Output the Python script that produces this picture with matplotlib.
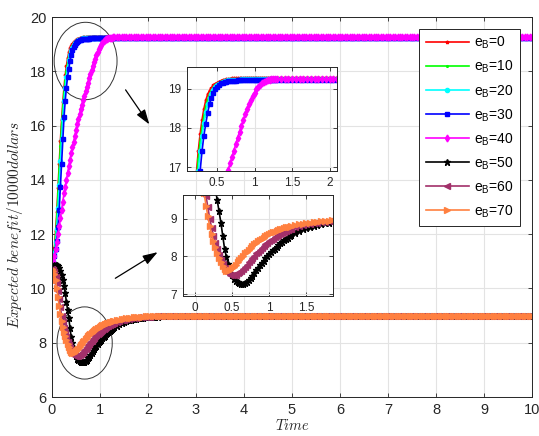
import numpy as np
import matplotlib
matplotlib.use("Agg")
import matplotlib.pyplot as plt
from matplotlib.patches import Ellipse

plt.rcParams['font.family'] = ['Liberation Sans', 'DejaVu Sans']
plt.rcParams['mathtext.fontset'] = 'custom'
plt.rcParams['mathtext.rm'] = 'Liberation Sans'
plt.rcParams['mathtext.it'] = 'Liberation Sans:italic'

# ---------------- data ----------------
# time grid: fine part 0..1.3 (step 0.025), mid part 1.35..3.0 (step 0.05), tail 3.05..10 (step 0.05)
t_fine = np.round(np.arange(0, 1.3001, 0.025), 3)
t_mid = np.round(np.arange(1.35, 3.0001, 0.05), 3)
t_tail = np.round(np.arange(3.05, 10.0001, 0.05), 3)

labels = [r'e$_{\mathrm{B}}$=0', r'e$_{\mathrm{B}}$=10', r'e$_{\mathrm{B}}$=20', r'e$_{\mathrm{B}}$=30',
          r'e$_{\mathrm{B}}$=40', r'e$_{\mathrm{B}}$=50', r'e$_{\mathrm{B}}$=60', r'e$_{\mathrm{B}}$=70']

# upper group (values on t_fine, then steady value)
eB0 = [10.80, 11.10, 11.50, 12.10, 12.80, 13.70, 14.60, 15.45, 16.20, 16.85, 17.40, 17.85, 18.20,
       18.48, 18.70, 18.85, 18.95, 19.02, 19.08, 19.12, 19.15, 19.18, 19.20, 19.22, 19.23, 19.24,
       19.25, 19.255, 19.26, 19.265, 19.27, 19.27, 19.27, 19.275, 19.275, 19.28, 19.28, 19.28, 19.28,
       19.28, 19.28, 19.28, 19.28, 19.28, 19.28, 19.28, 19.28, 19.28, 19.28, 19.28, 19.28, 19.28, 19.28]
eB0_final = 19.28
eB10 = [10.80, 11.05, 11.40, 11.95, 12.60, 13.50, 14.40, 15.25, 16.00, 16.65, 17.20, 17.65, 18.00,
        18.30, 18.55, 18.72, 18.85, 18.95, 19.02, 19.08, 19.12, 19.15, 19.18, 19.20, 19.21, 19.22,
        19.23, 19.235, 19.24, 19.245, 19.25, 19.25, 19.25, 19.255, 19.255, 19.26, 19.26, 19.26, 19.26,
        19.26, 19.26, 19.26, 19.26, 19.26, 19.26, 19.26, 19.26, 19.26, 19.26, 19.26, 19.26, 19.26, 19.26]
eB10_final = 19.26
eB20 = [10.80, 11.00, 11.30, 11.70, 12.20, 12.95, 13.80, 14.70, 15.50, 16.25, 16.90, 17.40, 17.80,
        18.12, 18.40, 18.60, 18.75, 18.87, 18.97, 19.03, 19.08, 19.12, 19.15, 19.17, 19.19, 19.20,
        19.21, 19.215, 19.22, 19.222, 19.225, 19.228, 19.23, 19.235, 19.24, 19.24, 19.24, 19.24, 19.24,
        19.24, 19.24, 19.24, 19.24, 19.24, 19.24, 19.24, 19.24, 19.24, 19.24, 19.24, 19.24, 19.24, 19.24]
eB20_final = 19.24
eB30 = [10.80, 10.95, 11.20, 11.45, 11.75, 12.25, 12.90, 13.75, 14.60, 15.50, 16.30, 16.90, 17.40,
        17.80, 18.10, 18.38, 18.60, 18.77, 18.90, 18.98, 19.05, 19.09, 19.13, 19.15, 19.17, 19.18,
        19.19, 19.195, 19.20, 19.202, 19.205, 19.207, 19.21, 19.212, 19.215, 19.217, 19.22, 19.22, 19.22,
        19.22, 19.22, 19.22, 19.22, 19.22, 19.22, 19.22, 19.22, 19.22, 19.22, 19.22, 19.22, 19.22, 19.22]
eB30_final = 19.22
eB40 = [10.80, 11.00, 11.20, 11.45, 11.70, 12.00, 12.30, 12.60, 12.90, 13.20, 13.50, 13.75, 14.00,
        14.25, 14.50, 14.75, 15.00, 15.20, 15.40, 15.62, 15.85, 16.05, 16.25, 16.43, 16.60, 16.77,
        16.93, 17.10, 17.26, 17.42, 17.58, 17.74, 17.90, 18.05, 18.20, 18.34, 18.47, 18.60, 18.71,
        18.81, 18.90, 18.98, 19.05, 19.10, 19.14, 19.18, 19.20, 19.22, 19.23, 19.235, 19.24, 19.245, 19.25]
eB40_final = 19.25

# lower group (values on t_fine + t_mid, then steady value)
eB50 = [10.75, 10.82, 10.85, 10.86, 10.85, 10.81, 10.75, 10.65, 10.50, 10.32, 10.10, 9.82, 9.50,
        9.20, 8.90, 8.55, 8.20, 7.98, 7.80, 7.63, 7.50, 7.41, 7.35, 7.31, 7.29, 7.28,
        7.28, 7.30, 7.33, 7.38, 7.43, 7.49, 7.56, 7.63, 7.70, 7.77, 7.83, 7.89, 7.95,
        8.01, 8.06, 8.11, 8.16, 8.21, 8.26, 8.31, 8.35, 8.39, 8.43, 8.47, 8.50, 8.54, 8.57,
        8.63, 8.68, 8.72, 8.76, 8.79, 8.82, 8.84, 8.86, 8.88, 8.90, 8.91, 8.92, 8.93, 8.94,
        8.95, 8.95, 8.96, 8.96, 8.97, 8.97, 8.97, 8.98, 8.98, 8.98, 8.98, 8.99, 8.99, 8.99,
        8.99, 8.99, 9.00, 9.00, 9.00, 9.00]
eB50_final = 9.00
eB60 = [10.70, 10.68, 10.60, 10.43, 10.20, 9.92, 9.60, 9.30, 9.00, 8.76, 8.55, 8.36, 8.20,
        8.04, 7.90, 7.79, 7.70, 7.62, 7.56, 7.52, 7.50, 7.50, 7.52, 7.55, 7.58, 7.62,
        7.67, 7.72, 7.78, 7.84, 7.90, 7.96, 8.02, 8.08, 8.13, 8.18, 8.23, 8.28, 8.32,
        8.36, 8.40, 8.44, 8.47, 8.51, 8.54, 8.57, 8.60, 8.63, 8.65, 8.68, 8.70, 8.72, 8.74,
        8.77, 8.80, 8.83, 8.85, 8.87, 8.89, 8.90, 8.91, 8.92, 8.93, 8.94, 8.95, 8.95, 8.96,
        8.96, 8.97, 8.97, 8.97, 8.98, 8.98, 8.98, 8.98, 8.99, 8.99, 8.99, 8.99, 8.99, 9.00,
        9.00, 9.00, 9.00, 9.00, 9.00, 9.00]
eB60_final = 9.00
eB70 = [10.70, 10.66, 10.55, 10.30, 10.00, 9.68, 9.35, 9.06, 8.80, 8.59, 8.40, 8.24, 8.10,
        7.97, 7.85, 7.74, 7.66, 7.62, 7.62, 7.64, 7.68, 7.73, 7.78, 7.84, 7.90, 7.96,
        8.02, 8.08, 8.13, 8.18, 8.23, 8.28, 8.32, 8.36, 8.40, 8.44, 8.47, 8.50, 8.53,
        8.56, 8.59, 8.62, 8.64, 8.66, 8.68, 8.70, 8.72, 8.74, 8.75, 8.77, 8.78, 8.79, 8.80,
        8.83, 8.85, 8.87, 8.88, 8.90, 8.91, 8.92, 8.93, 8.94, 8.95, 8.96, 8.96, 8.97, 8.97,
        8.98, 8.98, 8.98, 8.99, 8.99, 8.99, 8.99, 8.99, 9.00, 9.00, 9.00, 9.00, 9.00, 9.00,
        9.00, 9.00, 9.00, 9.00, 9.00, 9.00]
eB70_final = 9.00

upper = [(eB0, eB0_final), (eB10, eB10_final), (eB20, eB20_final), (eB30, eB30_final), (eB40, eB40_final)]
lower = [(eB50, eB50_final), (eB60, eB60_final), (eB70, eB70_final)]

t_all = np.concatenate([t_fine, t_mid, t_tail])
series = []
for vals, fin in upper + lower:
    series.append(np.concatenate([vals, np.full(len(t_all) - len(vals), fin)]))

colors = ['#FF0000', '#00FF00', '#00FFFF', '#0000FF', '#FF00FF', '#000000', '#A2306A', '#FF8040']
markers = ['*', '.', 'o', 's', 'd', '*', '<', '>']
msizes = [2.5, 2.5, 3, 3.5, 3.5, 5, 4, 4]

# ---------------- figure ----------------
fig = plt.figure(figsize=(5.39, 4.36), dpi=100)
ax = fig.add_axes([52/539, 1-397/436, 480/539, 380/436])

def draw(a, with_labels=False):
    for i, y in enumerate(series):
        a.plot(t_all, y, color=colors[i], marker=markers[i], markersize=msizes[i],
               markerfacecolor=colors[i], markeredgecolor=colors[i], linewidth=1.2,
               label=labels[i] if with_labels else None)

def style(a, fs):
    a.grid(True, color='#e3e3e3', linewidth=0.8)
    a.set_axisbelow(True)
    a.tick_params(direction='in', top=True, right=True, labelsize=fs, length=3, width=0.6,
                  colors='#262626', pad=4)
    for s in a.spines.values():
        s.set_color('#262626')
        s.set_linewidth(0.7)

draw(ax, True)
ax.set_xlim(0, 10)
ax.set_ylim(6, 20)
ax.set_xticks(range(0, 11))
ax.set_yticks(range(6, 21, 2))
style(ax, 10.5)
ax.set_xlabel(r'$Time$', fontsize=10.5, labelpad=1, color='#262626', math_fontfamily='cm')
ax.set_ylabel(r'$Expected\ benefit/10000dollars$', fontsize=11, color='#262626', math_fontfamily='cm')
ax.yaxis.set_label_coords(-0.056, 0.453)

leg = ax.legend(loc='upper right', fontsize=10, handlelength=3.15, labelspacing=0.55,
                handletextpad=0.35, fancybox=False, framealpha=1, edgecolor='#262626',
                borderaxespad=0.85, numpoints=1, borderpad=0.45)
leg.get_frame().set_linewidth(0.7)

# ellipses
ax.add_patch(Ellipse((0.7, 18.38), 1.31, 2.85, fill=False, edgecolor='#333333', linewidth=0.7))
ax.add_patch(Ellipse((0.68, 7.99), 1.15, 2.66, fill=False, edgecolor='#333333', linewidth=0.7))

# arrows
ax.annotate('', xy=(2.06, 15.96), xytext=(1.5, 17.4),
            arrowprops=dict(arrowstyle='-|>,head_length=0.9,head_width=0.3', color='black', lw=0.9))
ax.annotate('', xy=(2.25, 11.39), xytext=(1.27, 10.32),
            arrowprops=dict(arrowstyle='-|>,head_length=0.9,head_width=0.3', color='black', lw=0.9))

# inset 1
ax1 = fig.add_axes([187/539, 1-171/436, 150/539, 104/436])
draw(ax1)
ax1.set_xlim(0.1, 2.1)
ax1.set_ylim(16.9, 19.55)
ax1.set_xticks([0.5, 1, 1.5, 2])
ax1.set_xticklabels(['0.5', '1', '1.5', '2'])
ax1.set_yticks([17, 18, 19])
style(ax1, 8.5)

# inset 2
ax2 = fig.add_axes([183/539, 1-296/436, 150/539, 101/436])
draw(ax2)
ax2.set_xlim(-0.16, 1.86)
ax2.set_ylim(6.95, 9.63)
ax2.set_xticks([0, 0.5, 1, 1.5])
ax2.set_xticklabels(['0', '0.5', '1', '1.5'])
ax2.set_yticks([7, 8, 9])
style(ax2, 8.5)

fig.savefig('out.png', dpi=100)
